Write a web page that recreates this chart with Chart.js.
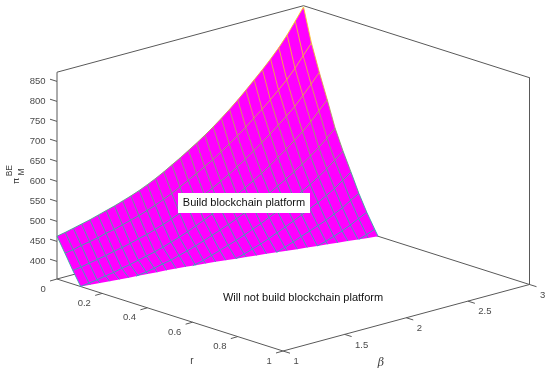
<!DOCTYPE html>
<html>
<head>
<meta charset="utf-8">
<title>Blockchain platform threshold</title>
<script src="https://cdn.jsdelivr.net/npm/chart.js"></script>
<style>
html, body { margin: 0; padding: 0; background: #fff; }
canvas { display: block; }
</style>
</head>
<body>
<canvas id="surface" width="550" height="373"></canvas>
<script>
var betaValues = [1, 1.067, 1.133, 1.2, 1.267, 1.333, 1.4, 1.467, 1.533, 1.6, 1.667, 1.733, 1.8, 1.867, 1.933, 2,
	2.067, 2.133, 2.2, 2.267, 2.333, 2.4, 2.467, 2.533, 2.6, 2.667, 2.733, 2.8, 2.867, 2.933, 3];
var rValues = [0, 0.035, 0.07, 0.105, 0.14, 0.175, 0.21, 0.245, 0.28, 0.315];

// one list per beta: z at rValues[0], rValues[1]... until the surface reaches the floor
var zByBeta = [
	[463, 427, 390],
	[467, 430, 393, 359],
	[472, 435, 397, 362],
	[477, 439, 401, 366],
	[482, 443, 405, 369],
	[488, 449, 410, 374],
	[494, 453, 414, 378, 357],
	[500, 459, 419, 383, 360],
	[507, 465, 425, 388, 364],
	[514, 471, 430, 393, 369],
	[522, 478, 437, 399, 373],
	[531, 486, 444, 406, 379],
	[541, 495, 452, 413, 385, 357],
	[552, 504, 461, 421, 392, 362],
	[564, 515, 471, 430, 399, 369],
	[576, 526, 481, 439, 407, 376],
	[589, 537, 491, 449, 415, 383],
	[602, 549, 502, 458, 423, 390, 362],
	[616, 561, 513, 469, 432, 398, 369],
	[631, 575, 525, 480, 442, 407, 376],
	[647, 589, 538, 492, 452, 415, 384],
	[664, 604, 552, 504, 462, 425, 393, 363],
	[682, 620, 567, 517, 474, 435, 402, 371],
	[701, 637, 582, 531, 486, 446, 411, 379],
	[721, 654, 598, 546, 498, 457, 421, 387],
	[741, 672, 615, 561, 511, 468, 431, 395, 362],
	[762, 691, 632, 577, 524, 480, 441, 403, 369],
	[785, 711, 650, 594, 539, 493, 453, 413, 377],
	[811, 734, 672, 613, 555, 508, 465, 423, 386],
	[840, 760, 695, 635, 573, 524, 480, 436, 397, 363],
	[870, 786, 719, 657, 592, 541, 495, 448, 407, 371]
];
// r where the surface meets the floor, one per beta
var rEdge = [0.105, 0.111, 0.118, 0.124, 0.13, 0.136, 0.141, 0.146, 0.152, 0.157, 0.163, 0.17, 0.177, 0.185, 0.193, 0.201,
	0.21, 0.219, 0.228, 0.236, 0.245, 0.254, 0.263, 0.271, 0.28, 0.288, 0.297, 0.305, 0.314, 0.322, 0.33];

var zTicks = [400, 450, 500, 550, 600, 650, 700, 750, 800, 850];
var rTicks = [0, 0.2, 0.4, 0.6, 0.8, 1];
var betaTicks = [1, 1.5, 2, 2.5, 3];
var zFloor = 356;
var zTop = 873;

// the view of the axes box, orthographic
function project(beta, r, z) {
	var b = (beta - 1) / 2;
	return {
		x: 57 + 226 * r + 246.5 * b,
		y: 279 + 72 * r - 66.5 * b - (z - zFloor) * 0.4,
		z: z
	};
}

var colorStops = [
	[356, 40, 178, 178],
	[470, 60, 175, 150],
	[570, 135, 165, 105],
	[680, 225, 165, 70],
	[780, 245, 185, 50],
	[873, 250, 215, 30]
];

function edgeColor(z) {
	for (var i = 1; i < colorStops.length; i++) {
		if (z <= colorStops[i][0] || i == colorStops.length - 1) {
			var a = colorStops[i - 1], c = colorStops[i];
			var t = Math.min(1, Math.max(0, (z - a[0]) / (c[0] - a[0])));
			return "rgb(" + Math.round(a[1] + (c[1] - a[1]) * t) + "," + Math.round(a[2] + (c[2] - a[2]) * t) + "," + Math.round(a[3] + (c[3] - a[3]) * t) + ")";
		}
	}
}

var datasets = [];

function addAxisLine(points) {
	datasets.push({
		data: points,
		showLine: true,
		borderColor: "#595959",
		borderWidth: 1,
		pointRadius: 0,
		fill: false
	});
}

function addMeshLine(points) {
	datasets.push({
		data: points,
		showLine: true,
		borderColor: edgeColor(points[0].z),
		borderWidth: 0.9,
		pointRadius: 0,
		fill: false,
		segment: {
			borderColor: function(ctx) {
				return edgeColor((points[ctx.p0DataIndex].z + points[ctx.p1DataIndex].z) / 2);
			}
		}
	});
}

// box
addAxisLine([project(1, 0, zFloor), project(1, 0, zTop), project(3, 0, zTop), project(3, 1, zTop), project(3, 1, zFloor)]);
addAxisLine([project(1, 0, zFloor), project(1, 1, zFloor), project(3, 1, zFloor), project(3, 0, zFloor), project(1, 0, zFloor)]);

// ticks
zTicks.forEach(function(v) {
	var p = project(1, 0, v);
	addAxisLine([p, {x: p.x - 7, y: p.y - 2.2}]);
});
rTicks.forEach(function(v) {
	var p = project(1, v, zFloor);
	addAxisLine([p, {x: p.x - 7, y: p.y + 2}]);
});
betaTicks.forEach(function(v) {
	var p = project(v, 1, zFloor);
	addAxisLine([p, {x: p.x + 7, y: p.y + 2.2}]);
});

// surface face
var outline = [];
betaValues.forEach(function(beta, i) {
	outline.push(project(beta, 0, zByBeta[i][0]));
});
zByBeta[30].forEach(function(z, j) {
	if (j > 0) outline.push(project(3, rValues[j], z));
});
for (var i = 30; i >= 0; i--) {
	outline.push(project(betaValues[i], rEdge[i], zFloor));
}
for (var j = zByBeta[0].length - 1; j > 0; j--) {
	outline.push(project(1, rValues[j], zByBeta[0][j]));
}
datasets.push({
	data: outline,
	showLine: true,
	borderWidth: 0,
	borderColor: "#ff00ff",
	backgroundColor: "#ff00ff",
	pointRadius: 0,
	fill: "shape"
});

// lines of constant beta
betaValues.forEach(function(beta, i) {
	var pts = zByBeta[i].map(function(z, j) {
		return project(beta, rValues[j], z);
	});
	pts.push(project(beta, rEdge[i], zFloor));
	addMeshLine(pts);
});

// lines of constant r, starting where they come up out of the floor
rValues.forEach(function(r, j) {
	var pts = [];
	betaValues.forEach(function(beta, i) {
		if (zByBeta[i].length <= j) return;
		if (pts.length == 0 && i > 0) {
			var t = (r - rEdge[i - 1]) / (rEdge[i] - rEdge[i - 1]);
			pts.push(project(betaValues[i - 1] + (beta - betaValues[i - 1]) * t, r, zFloor));
		}
		pts.push(project(beta, r, zByBeta[i][j]));
	});
	addMeshLine(pts);
});

// chart.js paints the first dataset last, so the box has to go to the end
datasets.reverse();

// texts placed at pixel values of the two scales
var tickFont = "9.5px 'Liberation Sans', Arial, sans-serif";
var textFont = "11px 'Liberation Sans', Arial, sans-serif";
var tickColor = "#4a4a4a";

var textPlugin = {
	id: "texts",
	afterDatasetsDraw: function(chart) {
		var ctx = chart.ctx;
		var sx = chart.scales.x, sy = chart.scales.y;

		function put(str, x, y, align, font, color) {
			ctx.font = font;
			ctx.fillStyle = color;
			ctx.textAlign = align;
			ctx.textBaseline = "middle";
			ctx.fillText(str, sx.getPixelForValue(x), sy.getPixelForValue(y));
		}

		function putUp(str, x, y, font, color) {
			ctx.save();
			ctx.translate(sx.getPixelForValue(x), sy.getPixelForValue(y));
			ctx.rotate(-Math.PI / 2);
			ctx.font = font;
			ctx.fillStyle = color;
			ctx.textAlign = "center";
			ctx.textBaseline = "middle";
			ctx.fillText(str, 0, 0);
			ctx.restore();
		}

		ctx.save();
		zTicks.forEach(function(v) {
			var p = project(1, 0, v);
			put(String(v), p.x - 11.5, p.y - 0.5, "right", tickFont, tickColor);
		});
		rTicks.forEach(function(v) {
			var p = project(1, v, zFloor);
			put(String(v), p.x - 11.3, p.y + 10, "right", tickFont, tickColor);
		});
		betaTicks.forEach(function(v) {
			var p = project(v, 1, zFloor);
			put(String(v), p.x + 10.4, p.y + 10.5, "left", tickFont, tickColor);
		});

		put("r", 192, 361, "center", "10px 'Liberation Sans', Arial, sans-serif", "#404040");
		put("\u03b2", 381, 363, "center", "italic 11px 'DejaVu Serif', serif", "#404040");
		putUp("\u03c0", 17, 181, "9.5px 'DejaVu Sans', sans-serif", "#404040");
		putUp("BE", 10, 170.7, "8.5px 'Liberation Sans', Arial, sans-serif", "#404040");
		putUp("M", 22, 172, "8.5px 'Liberation Sans', Arial, sans-serif", "#404040");

		ctx.fillStyle = "#fff";
		ctx.fillRect(sx.getPixelForValue(178), sy.getPixelForValue(193), 132, 20);
		put("Build blockchain platform", 244, 203.3, "center", textFont, "#111");
		put("Will not build blockchain platform", 303, 298, "center", textFont, "#111");
		ctx.restore();
	}
};

var ctx = document.getElementById("surface");

var chart = new Chart(ctx, {
	type: "scatter",
	data: { datasets: datasets },
	plugins: [textPlugin],
	options: {
		responsive: false,
		animation: false,
		events: [],
		layout: { padding: 0 },
		plugins: {
			legend: { display: false },
			tooltip: { enabled: false }
		},
		scales: {
			x: { type: "linear", min: 0, max: 550, display: false },
			y: { type: "linear", min: 0, max: 373, reverse: true, display: false }
		}
	}
});
</script>
</body>
</html>
